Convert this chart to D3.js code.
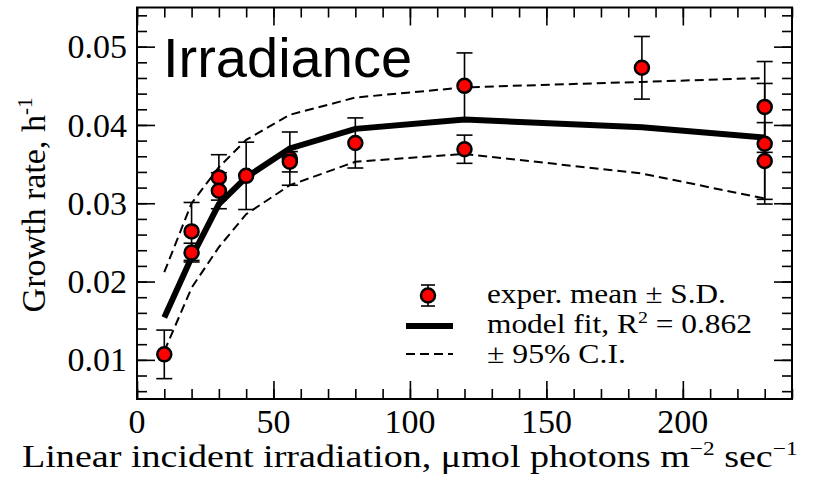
<!DOCTYPE html>
<html>
<head>
<meta charset="utf-8">
<script src="https://cdnjs.cloudflare.com/ajax/libs/d3/7.8.5/d3.min.js"></script>
<style>
	body { margin: 0; background: #fff; }
	svg { display: block; }
</style>
</head>
<body>
<div id="chart"></div>
<script>
// experimental means and S.D.
var irradiance = [10, 20, 20, 30, 30, 40, 56, 56, 80, 120, 120, 185, 230, 230, 230];
var growth = [0.0107, 0.0264, 0.0237, 0.0333, 0.0316, 0.0335, 0.0357, 0.0353, 0.0377, 0.0450, 0.0369, 0.0473, 0.0423, 0.0376, 0.0354];
var growthSD = [0.0031, 0.0037, 0.0012, 0.0029, 0.0023, 0.0043, 0.0034, 0.0013, 0.0032, 0.0042, 0.0018, 0.0040, 0.0058, 0.0077, 0.0049];

// model fit and confidence band
var fitX = [10, 20, 30, 40, 56, 80, 120, 185, 230];
var fitY = [0.0154, 0.0231, 0.0299, 0.0333, 0.0370, 0.0395, 0.0407, 0.0397, 0.0384];
var ciUpper = [0.0212, 0.0300, 0.0346, 0.0381, 0.0413, 0.0435, 0.0448, 0.0455, 0.0460];
var ciLower = [0.0111, 0.0192, 0.0244, 0.0286, 0.0323, 0.0353, 0.0363, 0.0338, 0.0306];

var xTicks = [0, 50, 100, 150, 200];
var yTicks = [0.01, 0.02, 0.03, 0.04, 0.05];
var legendLabels = ["exper. mean \u00b1 S.D.", "model fit, R", "\u00b1 95% C.I."];

var W = 813, H = 480;
var margin = { top: 7.5, right: 21, bottom: 81, left: 137 };
var width = W - margin.left - margin.right,
	height = H - margin.top - margin.bottom;

var svg = d3.select("#chart")
	.append("svg")
	.attr("width", W)
	.attr("height", H);

var g = svg.append("g")
	.attr("transform", "translate(" + margin.left + "," + margin.top + ")");

var x = d3.scaleLinear().domain([0, 240]).range([0, width]);
var y = d3.scaleLinear().domain([0.005, 0.055]).range([height, 0]);

var serif = "'Liberation Serif', 'Times New Roman', serif";

// stretch a start-anchored text horizontally so it spans the given width
function stretchTo(sel, x0, target) {
	var w = sel.node().getBBox().width;
	sel.attr("transform", "translate(" + x0 + ",0) scale(" + (target / w) + ",1) translate(" + (-x0) + ",0)");
}

// inward ticks on all four sides
var minorX = d3.range(0, 241, 10);
var minorY = d3.range(0.006, 0.0551, 0.002);

function tickSet(axisFn, scale, values, size) {
	return axisFn(scale).tickValues(values).tickSize(size).tickFormat("");
}

var axes = [
	[d3.axisBottom, x, "translate(0," + height + ")"],
	[d3.axisTop, x, "translate(0,0)"],
	[d3.axisLeft, y, "translate(0,0)"],
	[d3.axisRight, y, "translate(" + width + ",0)"]
];
axes.forEach(function (a) {
	var isX = a[1] === x;
	var minorVals = isX ? minorX : minorY;
	var majorVals = isX ? xTicks : yTicks;
	g.append("g").attr("transform", a[2]).call(tickSet(a[0], a[1], minorVals, -10));
	g.append("g").attr("transform", a[2]).call(tickSet(a[0], a[1], majorVals, -18));
});
g.selectAll(".domain").remove();
g.selectAll(".tick line").attr("stroke", "#000").attr("stroke-width", 1.6);

// tick labels
g.selectAll(".xlab")
	.data(xTicks)
	.enter()
	.append("text")
	.attr("x", function (d) { return x(d); })
	.attr("y", height + 34)
	.attr("text-anchor", "middle")
	.style("font-family", serif)
	.style("font-size", "34px")
	.text(function (d) { return d; });

g.selectAll(".ylab")
	.data(yTicks)
	.enter()
	.append("text")
	.attr("x", -10)
	.attr("y", function (d) { return y(d); })
	.attr("dy", "0.34em")
	.attr("text-anchor", "end")
	.style("font-family", serif)
	.style("font-size", "34px")
	.text(function (d) { return d.toFixed(2); });

// error bars
var bars = g.append("g").attr("stroke", "#000").attr("stroke-width", 1.6);
irradiance.forEach(function (xi, i) {
	var lo = y(growth[i] - growthSD[i]), hi = y(growth[i] + growthSD[i]), cx = x(xi);
	bars.append("line").attr("x1", cx).attr("x2", cx).attr("y1", lo).attr("y2", hi);
	bars.append("line").attr("x1", cx - 8).attr("x2", cx + 8).attr("y1", lo).attr("y2", lo);
	bars.append("line").attr("x1", cx - 8).attr("x2", cx + 8).attr("y1", hi).attr("y2", hi);
});

// model fit and C.I. lines
function pathFor(ys) {
	return d3.line()
		.x(function (d, i) { return x(fitX[i]); })
		.y(function (d) { return y(d); })(ys);
}

[ciUpper, ciLower].forEach(function (band) {
	g.append("path")
		.attr("d", pathFor(band))
		.attr("fill", "none")
		.attr("stroke", "#000")
		.attr("stroke-width", 2)
		.attr("stroke-dasharray", "9,5");
});

g.append("path")
	.attr("d", pathFor(fitY))
	.attr("fill", "none")
	.attr("stroke", "#000")
	.attr("stroke-width", 6);

// points
g.selectAll("circle.pt")
	.data(irradiance)
	.enter()
	.append("circle")
	.attr("class", "pt")
	.attr("cx", function (d) { return x(d); })
	.attr("cy", function (d, i) { return y(growth[i]); })
	.attr("r", 7)
	.attr("fill", "#ff0000")
	.attr("stroke", "#000")
	.attr("stroke-width", 2.5);

// frame
g.append("rect")
	.attr("width", width)
	.attr("height", height)
	.attr("fill", "none")
	.attr("stroke", "#000")
	.attr("stroke-width", 2);

// panel title
svg.append("text")
	.attr("x", 163)
	.attr("y", 77)
	.style("font-family", "'Liberation Sans', Arial, sans-serif")
	.style("font-size", "56px")
	.text("Irradiance");

// legend
var leg = svg.append("g").style("font-family", serif).style("font-size", "27px");
leg.append("line").attr("x1", 428).attr("x2", 428).attr("y1", 285).attr("y2", 306).attr("stroke", "#000").attr("stroke-width", 1.6);
leg.append("line").attr("x1", 421).attr("x2", 435).attr("y1", 285).attr("y2", 285).attr("stroke", "#000").attr("stroke-width", 1.6);
leg.append("line").attr("x1", 421).attr("x2", 435).attr("y1", 306).attr("y2", 306).attr("stroke", "#000").attr("stroke-width", 1.6);
leg.append("circle").attr("cx", 428).attr("cy", 295.5).attr("r", 7).attr("fill", "#ff0000").attr("stroke", "#000").attr("stroke-width", 2.5);
leg.append("line").attr("x1", 406).attr("x2", 453).attr("y1", 326).attr("y2", 326).attr("stroke", "#000").attr("stroke-width", 6);
leg.append("line").attr("x1", 406).attr("x2", 453).attr("y1", 354).attr("y2", 354).attr("stroke", "#000").attr("stroke-width", 2).attr("stroke-dasharray", "9,5");

var l0 = leg.append("text").attr("x", 487).attr("y", 303).text(legendLabels[0]);
var l1 = leg.append("text").attr("x", 487).attr("y", 333).text(legendLabels[1]);
l1.append("tspan").attr("dy", -10).style("font-size", "17px").text("2");
l1.append("tspan").attr("dy", 10).text(" = 0.862");
var l2 = leg.append("text").attr("x", 487).attr("y", 363).text(legendLabels[2]);
stretchTo(l0, 487, 239);
stretchTo(l1, 487, 265);
stretchTo(l2, 487, 139);

// axis titles
var xt = svg.append("text")
	.attr("x", 22)
	.attr("y", 467)
	.style("font-family", serif)
	.style("font-size", "31px")
	.text("Linear incident irradiation, \u03bcmol photons m");
xt.append("tspan").attr("dy", -12).style("font-size", "19px").text("\u22122");
xt.append("tspan").attr("dy", 12).text(" sec");
xt.append("tspan").attr("dy", -12).style("font-size", "19px").text("\u22121");
stretchTo(xt, 22, 776);

var yt = svg.append("text")
	.attr("transform", "translate(45,205) rotate(-90)")
	.attr("text-anchor", "middle")
	.style("font-family", serif)
	.style("font-size", "34px")
	.text("Growth rate, h");
yt.append("tspan").attr("dy", -13).style("font-size", "21px").text("-1");
</script>
</body>
</html>
